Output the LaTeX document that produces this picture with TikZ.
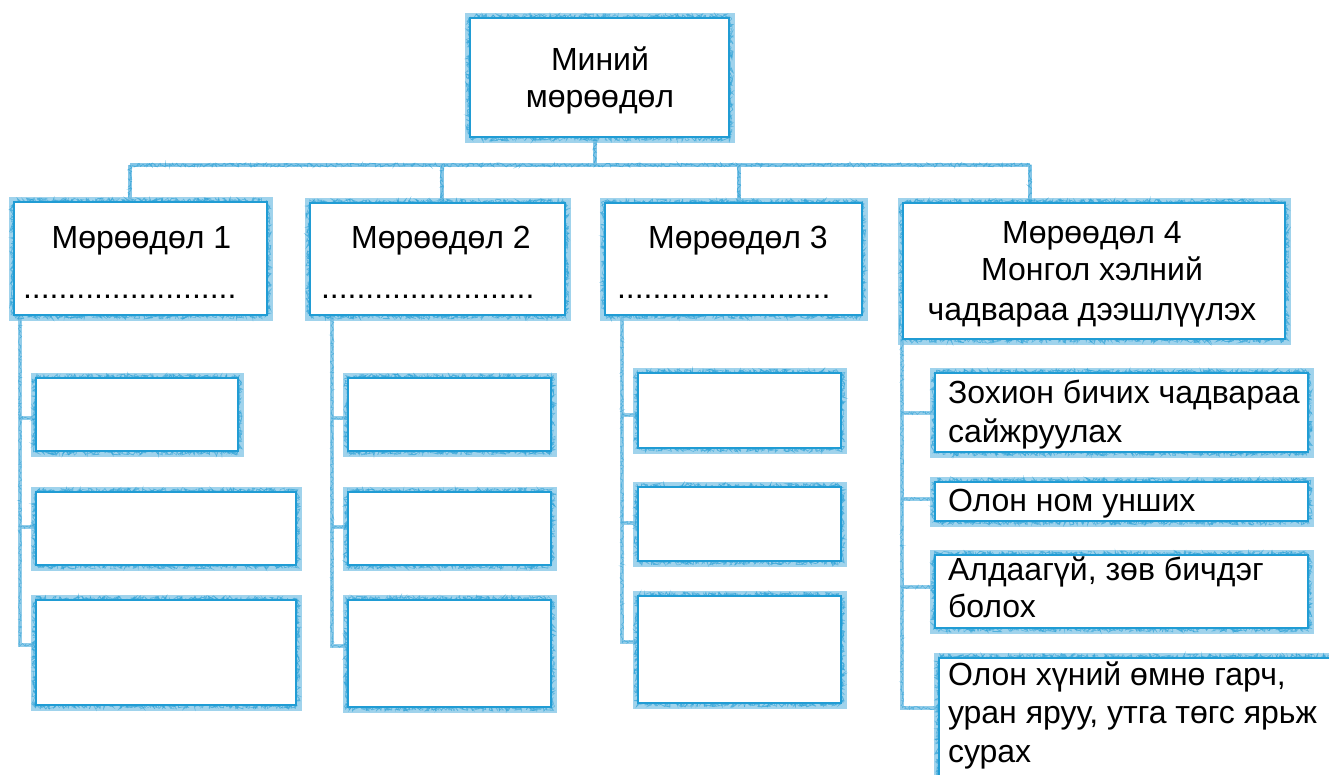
\documentclass[tikz,border=0pt]{standalone}
\usepackage{fontspec}
\setmainfont{Liberation Sans}
\usetikzlibrary{fit,backgrounds,decorations.pathmorphing}
\definecolor{lineblue}{RGB}{32,156,212}
\definecolor{fuzzblue}{RGB}{120,192,228}
\begin{document}
\begin{tikzpicture}[x=1pt,y=-1pt,
  scribble/.style={decorate, decoration={random steps, segment length=1.2pt, amplitude=4pt}},
  box/.style={draw=lineblue, line width=2.5pt, fill=white, inner sep=0pt, outer sep=0pt,
    preaction={draw=fuzzblue, line width=11pt, draw opacity=0.7},
    preaction={draw=lineblue, line width=0.8pt, draw opacity=0.6, scribble},
    preaction={draw=lineblue, line width=0.6pt, draw opacity=0.5, scribble}},
  conn/.style={draw=fuzzblue, line width=4.5pt, draw opacity=0.9,
    postaction={draw=lineblue, line width=0.7pt, draw opacity=0.6,
      decorate, decoration={random steps, segment length=1.2pt, amplitude=2pt}}},
  thin conn/.style={draw=fuzzblue, line width=3.5pt, draw opacity=0.8,
    postaction={draw=lineblue, line width=0.6pt, draw opacity=0.55,
      decorate, decoration={random steps, segment length=1.2pt, amplitude=1.6pt}}},
  txt/.style={inner sep=0pt, outer sep=0pt, text=black, font=\fontsize{32}{38}\selectfont}]
\useasboundingbox (0,0) rectangle (1329,774);
\clip (0,0) rectangle (1329,774);

% boxes
\node[box, fit={(470,18) (729,137)}] (root) {};
\node[box, fit={(14,202) (267,315)}] (m1) {};
\node[box, fit={(310,203) (565,315)}] (m2) {};
\node[box, fit={(605,203) (862,315)}] (m3) {};
\node[box, fit={(903,203) (1285,339)}] (m4) {};
\node[box, fit={(36,378) (238,451)}] (a1) {};
\node[box, fit={(36,492) (296,565)}] (a2) {};
\node[box, fit={(36,600) (296,705)}] (a3) {};
\node[box, fit={(348,378) (551,451)}] (b1) {};
\node[box, fit={(348,492) (551,565)}] (b2) {};
\node[box, fit={(348,600) (551,707)}] (b3) {};
\node[box, fit={(638,373) (841,448)}] (c1) {};
\node[box, fit={(638,487) (841,561)}] (c2) {};
\node[box, fit={(638,596) (841,703)}] (c3) {};
\node[box, fit={(935,373) (1308,452)}] (d1) {};
\node[box, fit={(935,482) (1308,521)}] (d2) {};
\node[box, fit={(935,555) (1308,628)}] (d3) {};
\node[box, fit={(939,658) (1345,800)}] (d4) {};

% junction coordinates
\coordinate (jr) at (595,165);
\coordinate (j1) at (130,165);
\coordinate (j2) at (442,165);
\coordinate (j3) at (739,165);
\coordinate (j4) at (1030,165);
\coordinate (sa1) at (20,418);
\coordinate (sa2) at (20,527);
\coordinate (sa3) at (20,645);
\coordinate (sb1) at (332,418);
\coordinate (sb2) at (332,527);
\coordinate (sb3) at (332,646);
\coordinate (sc1) at (622,415);
\coordinate (sc2) at (622,523);
\coordinate (sc3) at (622,642);
\coordinate (sd1) at (902,413);
\coordinate (sd2) at (902,499);
\coordinate (sd3) at (902,587);
\coordinate (sd4) at (902,708);

\begin{pgfonlayer}{background}
\draw[conn] (root.south -| jr) -- (jr);
\draw[conn] (j1) -- (j4);
\draw[conn] (j1) -- (m1.north -| j1);
\draw[conn] (j2) -- (m2.north -| j2);
\draw[conn] (j3) -- (m3.north -| j3);
\draw[conn] (j4) -- (m4.north -| j4);
\draw[thin conn] (m1.south -| sa1) -- (sa3) -- (sa3 -| a3.west);
\draw[thin conn] (sa1) -- (sa1 -| a1.west);
\draw[thin conn] (sa2) -- (sa2 -| a2.west);
\draw[thin conn] (m2.south -| sb1) -- (sb3) -- (sb3 -| b3.west);
\draw[thin conn] (sb1) -- (sb1 -| b1.west);
\draw[thin conn] (sb2) -- (sb2 -| b2.west);
\draw[thin conn] (m3.south -| sc1) -- (sc3) -- (sc3 -| c3.west);
\draw[thin conn] (sc1) -- (sc1 -| c1.west);
\draw[thin conn] (sc2) -- (sc2 -| c2.west);
\draw[thin conn] (m4.south -| sd1) -- (sd4) -- (sd4 -| d4.west);
\draw[thin conn] (sd1) -- (sd1 -| d1.west);
\draw[thin conn] (sd2) -- (sd2 -| d2.west);
\draw[thin conn] (sd3) -- (sd3 -| d3.west);
\end{pgfonlayer}

% texts
\node[txt, anchor=base] (troot1) at (600,70) {Миний};
\node[txt, anchor=base] (troot2) at (600,107) {мөрөөдөл};
\node[txt, anchor=base] (tm1) at (141.5,248) {Мөрөөдөл 1};
\node[txt, anchor=base west] (dm1) at (23,298) {........................};
\node[txt, anchor=base] (tm2) at (441,248) {Мөрөөдөл 2};
\node[txt, anchor=base west] (dm2) at (321,298) {........................};
\node[txt, anchor=base] (tm3) at (738,248) {Мөрөөдөл 3};
\node[txt, anchor=base west] (dm3) at (617,298) {........................};
\node[txt, anchor=base] (tm4a) at (1092,243) {Мөрөөдөл 4};
\node[txt, anchor=base] (tm4b) at (1092,280) {Монгол хэлний};
\node[txt, anchor=base] (tm4c) at (1092,320) {чадвараа дээшлүүлэх};
\node[txt, anchor=base west] (td1a) at (948,403) {Зохион бичих чадвараа};
\node[txt, anchor=base west] (td1b) at (948,442) {сайжруулах};
\node[txt, anchor=base west] (td2) at (948,511) {Олон ном унших};
\node[txt, anchor=base west] (td3a) at (948,580) {Алдаагүй, зөв бичдэг};
\node[txt, anchor=base west] (td3b) at (948,617) {болох};
\node[txt, anchor=base west] (td4a) at (948,685) {Олон хүний өмнө гарч,};
\node[txt, anchor=base west] (td4b) at (948,723) {уран яруу, утга төгс ярьж};
\node[txt, anchor=base west] (td4c) at (948,762) {сурах};
\end{tikzpicture}
\end{document}
